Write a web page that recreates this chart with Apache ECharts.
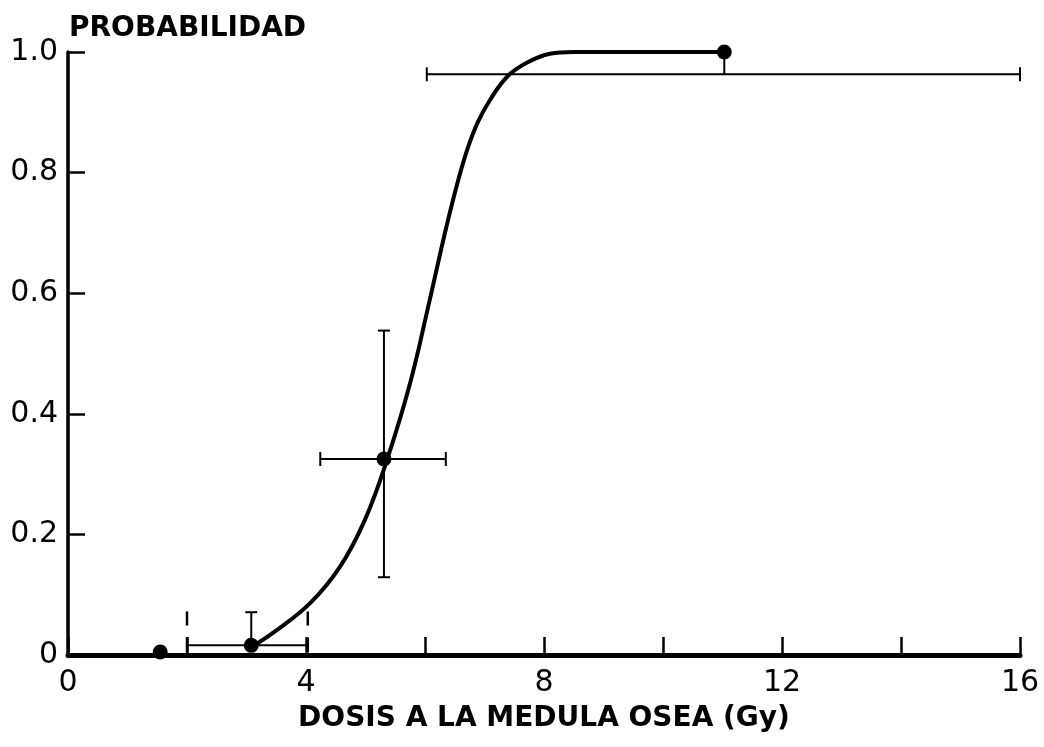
<!DOCTYPE html>
<html>
<head>
<meta charset="utf-8">
<script src="https://cdn.jsdelivr.net/npm/echarts@6/dist/echarts.min.js"></script>
<style>
html,body{margin:0;padding:0;background:#fff;}
#chart{width:1044px;height:747px;}
</style>
</head>
<body>
<div id="chart"></div>
<script>
// ---- data ----
const xTickLabels = ['0', '', '4', '', '8', '', '12', '', '16'];
const yTickLabels = ['0', '0.2', '0.4', '0.6', '0.8', '1.0'];

// fitted dose-response curve
const curveX = [3.06, 3.45, 4.07, 4.57, 4.99, 5.36, 5.75, 6.08, 6.34, 6.56, 6.72, 6.89, 7.09, 7.38, 7.71, 8.10, 8.49, 11.03];
const curveY = [0.012, 0.037, 0.086, 0.146, 0.224, 0.323, 0.451, 0.589, 0.702, 0.788, 0.841, 0.884, 0.920, 0.959, 0.982, 0.997, 1.0, 1.0];

// observed points
const pointX = [1.55, 3.08, 5.31, 11.03];
const pointY = [0.005, 0.016, 0.325, 1.0];

// horizontal error bars: y, xLow, xHigh
const hErrY = [0.016, 0.325, 0.963];
const hErrLow = [2.0, 4.24, 6.03];
const hErrHigh = [4.03, 6.35, 16.0];
const hErrCaps = [false, true, true];

// vertical error bars: x, yLow, yHigh
const vErrX = [3.08, 5.31, 11.03];
const vErrLow = [0.016, 0.129, 0.963];
const vErrHigh = [0.071, 0.538, 1.0];
const vErrCapLow = [false, true, false];
const vErrCapHigh = [true, true, false];

// dashed range markers for the 2-4 Gy group
const dashX = [2.0, 4.03];
const dashLow = [0.004, 0.004];
const dashHigh = [0.072, 0.072];

// ---- chart ----
const chart = echarts.init(document.getElementById('chart'));
const black = '#000';
const font = "'DejaVu Sans', Verdana, sans-serif";

const hData = hErrY.map((y, i) => [hErrLow[i], hErrHigh[i], y, hErrCaps[i] ? 1 : 0]);
const vData = vErrX.map((x, i) => [x, vErrLow[i], vErrHigh[i], vErrCapLow[i] ? 1 : 0, vErrCapHigh[i] ? 1 : 0]);
const dData = dashX.map((x, i) => [x, dashLow[i], dashHigh[i]]);

const lineStyle = { stroke: black, lineWidth: 2 };

chart.setOption({
  animation: false,
  backgroundColor: '#fff',
  title: {
    text: 'PROBABILIDAD',
    left: 64, top: 10,
    textStyle: { fontFamily: font, fontWeight: 'bold', fontSize: 28, color: black }
  },
  grid: { left: 68, right: 24, top: 52, bottom: 92, outerBoundsMode: 'none' },
  xAxis: {
    type: 'value', min: 0, max: 16, interval: 2,
    name: 'DOSIS A LA MEDULA OSEA (Gy)',
    nameLocation: 'middle', nameGap: 50,
    nameTextStyle: { fontFamily: font, fontWeight: 'bold', fontSize: 28, color: black },
    axisLine: { show: true, onZero: false, lineStyle: { color: black, width: 5 } },
    axisTick: { show: true, inside: true, length: 18, lineStyle: { color: black, width: 2.5 } },
    axisLabel: {
      fontFamily: font, fontSize: 30, color: black, margin: 13,
      formatter: v => xTickLabels[Math.round(v / 2)] || ''
    },
    splitLine: { show: false }
  },
  yAxis: {
    type: 'value', min: 0, max: 1, interval: 0.2,
    axisLine: { show: true, onZero: false, lineStyle: { color: black, width: 3.5 } },
    axisTick: { show: true, inside: true, length: 17, lineStyle: { color: black, width: 2.5 } },
    axisLabel: {
      fontFamily: font, fontSize: 30, color: black, margin: 10,
      formatter: v => yTickLabels[Math.round(v / 0.2)]
    },
    splitLine: { show: false }
  },
  series: [
    {
      type: 'custom', name: 'hErr', z: 2,
      data: hData,
      renderItem: (params, api) => {
        const p0 = api.coord([api.value(0), api.value(2)]);
        const p1 = api.coord([api.value(1), api.value(2)]);
        const children = [{ type: 'line', shape: { x1: p0[0], y1: p0[1], x2: p1[0], y2: p1[1] }, style: lineStyle }];
        if (api.value(3)) {
          children.push({ type: 'line', shape: { x1: p0[0], y1: p0[1] - 7, x2: p0[0], y2: p0[1] + 7 }, style: lineStyle });
          children.push({ type: 'line', shape: { x1: p1[0], y1: p1[1] - 7, x2: p1[0], y2: p1[1] + 7 }, style: lineStyle });
        }
        return { type: 'group', children };
      }
    },
    {
      type: 'custom', name: 'vErr', z: 2,
      data: vData,
      renderItem: (params, api) => {
        const p0 = api.coord([api.value(0), api.value(1)]);
        const p1 = api.coord([api.value(0), api.value(2)]);
        const children = [{ type: 'line', shape: { x1: p0[0], y1: p0[1], x2: p1[0], y2: p1[1] }, style: lineStyle }];
        if (api.value(3)) children.push({ type: 'line', shape: { x1: p0[0] - 6, y1: p0[1], x2: p0[0] + 6, y2: p0[1] }, style: lineStyle });
        if (api.value(4)) children.push({ type: 'line', shape: { x1: p1[0] - 6, y1: p1[1], x2: p1[0] + 6, y2: p1[1] }, style: lineStyle });
        return { type: 'group', children };
      }
    },
    {
      type: 'custom', name: 'dash', z: 2,
      data: dData,
      renderItem: (params, api) => {
        const p0 = api.coord([api.value(0), api.value(1)]);
        const p1 = api.coord([api.value(0), api.value(2)]);
        return { type: 'line', shape: { x1: p0[0], y1: p0[1], x2: p1[0], y2: p1[1] },
          style: { stroke: black, lineWidth: 2.5, lineDash: [15, 12] } };
      }
    },
    {
      type: 'line', name: 'curve', z: 3,
      data: curveX.map((x, i) => [x, curveY[i]]),
      showSymbol: false, symbol: 'none',
      smooth: 0.4,
      lineStyle: { color: black, width: 4 }
    },
    {
      type: 'scatter', name: 'points', z: 4,
      data: pointX.map((x, i) => [x, pointY[i]]),
      symbol: 'circle', symbolSize: 15,
      itemStyle: { color: black, opacity: 1 }
    }
  ]
});
</script>
</body>
</html>
